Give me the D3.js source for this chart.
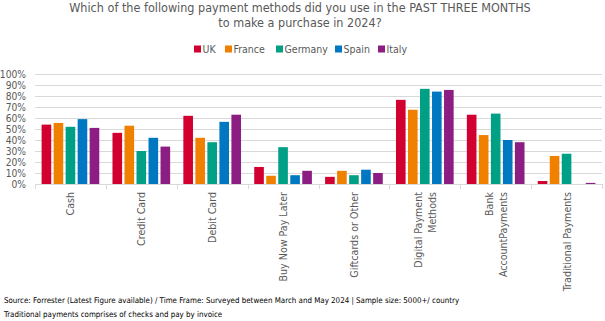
<!DOCTYPE html>
<html>
<head>
<meta charset="utf-8">
<script src="https://cdn.jsdelivr.net/npm/d3@7"></script>
<style>
  body { margin: 0; background: #fff; }
  text { font-family: "DejaVu Sans Condensed", "DejaVu Sans", sans-serif; fill: #595959; }
</style>
</head>
<body>
<script>
var categories = ["Cash", "Credit Card", "Debit Card", "Buy Now Pay Later", "Giftcards or Other",
                  "Digital Payment|Methods", "Bank|AccountPayments", "Traditional Payments"];
var countries = ["UK", "France", "Germany", "Spain", "Italy"];
var colors = ["#d20030", "#f08000", "#00a087", "#0078c1", "#8c1d82"];

var uk      = [54, 46.5, 62, 15.5, 6.5, 76.5, 63, 2.7];
var france  = [55.5, 53, 42, 7.5, 12, 67.5, 44.5, 25.5];
var germany = [52, 30, 38, 33.5, 8, 86.5, 64, 27.5];
var spain   = [59, 42, 56.5, 8, 13, 84, 40, 0];
var italy   = [51, 34, 63, 12, 10, 85.5, 38, 1];
var series = [uk, france, germany, spain, italy];

var yTicks = [0, 10, 20, 30, 40, 50, 60, 70, 80, 90, 100];

var W = 605, H = 321;
var plotL = 35, plotR = 602, plotT = 74, plotB = 184;

var svg = d3.select("body").append("svg")
    .attr("width", W)
    .attr("height", H);

// title
var title = svg.append("text")
    .attr("text-anchor", "middle")
    .style("font-size", "12.5px");
title.append("tspan").attr("x", 300).attr("y", 12)
    .text("Which of the following payment methods did you use in the PAST THREE MONTHS");
title.append("tspan").attr("x", 300).attr("y", 27)
    .text("to make a purchase in 2024?");

var x0 = d3.scaleBand().domain(categories).range([plotL, plotR]);
var x1 = d3.scaleBand().domain(countries).range([0, x0.bandwidth()]).paddingInner(0.2).paddingOuter(0.55);
var y = d3.scaleLinear().domain([0, 100]).range([plotB, plotT]);

// gridlines
svg.append("g").selectAll("line")
    .data(yTicks.slice(1))
    .enter().append("line")
    .attr("x1", plotL).attr("x2", plotR)
    .attr("y1", function(d) { return Math.round(y(d)) + 0.5; })
    .attr("y2", function(d) { return Math.round(y(d)) + 0.5; })
    .attr("stroke", "#d9d9d9")
    .attr("stroke-width", 1);

// y labels
svg.append("g").selectAll("text")
    .data(yTicks)
    .enter().append("text")
    .attr("x", 26)
    .attr("y", function(d) { return y(d) + 3.5; })
    .attr("text-anchor", "end")
    .style("font-size", "10.2px")
    .text(function(d) { return d + "%"; });

// bars
var groups = svg.append("g").selectAll("g")
    .data(categories)
    .enter().append("g")
    .attr("transform", function(d) { return "translate(" + x0(d) + ",0)"; });

groups.selectAll("rect")
    .data(function(d, i) {
        return countries.map(function(c, j) { return {c: c, v: series[j][i], j: j}; });
    })
    .enter().append("rect")
    .attr("x", function(d) { return x1(d.c); })
    .attr("width", x1.bandwidth())
    .attr("y", function(d) { return y(d.v); })
    .attr("height", function(d) { return plotB - y(d.v); })
    .attr("fill", function(d) { return colors[d.j]; });

// x axis line and ticks
svg.append("line")
    .attr("x1", plotL).attr("x2", plotR)
    .attr("y1", plotB + 0.5).attr("y2", plotB + 0.5)
    .attr("stroke", "#d9d9d9");
svg.append("g").selectAll("line")
    .data(d3.range(categories.length + 1))
    .enter().append("line")
    .attr("x1", function(i) { return Math.round(plotL + i * x0.step()) + 0.5; })
    .attr("x2", function(i) { return Math.round(plotL + i * x0.step()) + 0.5; })
    .attr("y1", plotB).attr("y2", plotB + 5)
    .attr("stroke", "#d9d9d9");

// category labels
svg.append("g").selectAll("text")
    .data(categories)
    .enter().append("text")
    .attr("transform", function(d) {
        return "translate(" + (x0(d) + x0.bandwidth() / 2) + "," + (plotB + 8) + ") rotate(-90)";
    })
    .attr("text-anchor", "end")
    .style("font-size", "10.6px")
    .each(function(d) {
        var lines = d.split("|");
        var t = d3.select(this);
        lines.forEach(function(l, k) {
            var off = (k - (lines.length - 1) / 2) * 14 + 4;
            t.append("tspan").attr("x", 0).attr("y", off).text(l);
        });
    });

// legend
var legX = [194, 225, 276, 335, 378];
var leg = svg.append("g").selectAll("g")
    .data(countries)
    .enter().append("g")
    .attr("transform", function(d, i) { return "translate(" + legX[i] + ",49)"; });
leg.append("rect")
    .attr("x", 0).attr("y", -3.5).attr("width", 7).attr("height", 7)
    .attr("fill", function(d, i) { return colors[i]; });
leg.append("text")
    .attr("x", 8.5).attr("y", 4)
    .style("font-size", "10.5px")
    .text(function(d) { return d; });

// footnotes
svg.append("text").attr("x", 4).attr("y", 303)
    .style("font-size", "7.9px").style("fill", "#000")
    .text("Source: Forrester (Latest Figure available) / Time Frame: Surveyed between March and May 2024 | Sample size: 5000+/ country");
svg.append("text").attr("x", 4).attr("y", 317)
    .style("font-size", "7.9px").style("fill", "#000")
    .text("Traditional payments comprises of checks and pay by invoice");
</script>
</body>
</html>
